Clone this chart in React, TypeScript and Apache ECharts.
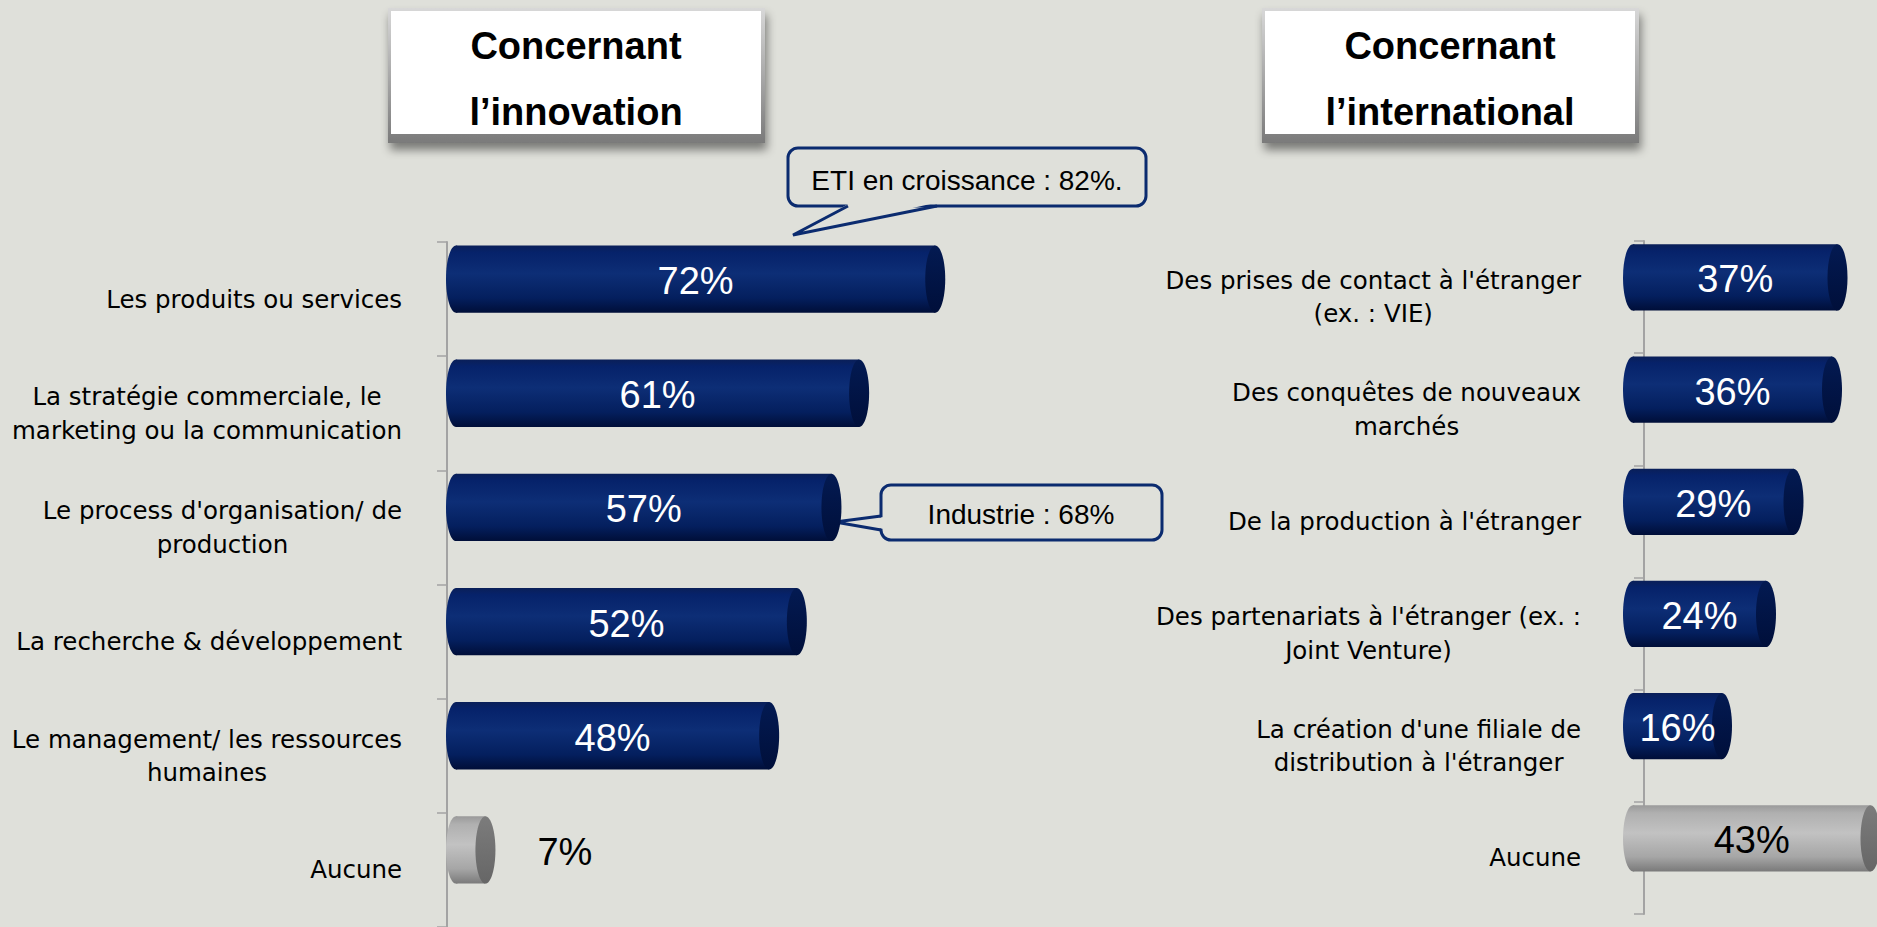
import React, { useEffect, useRef } from 'react';
import * as echarts from 'echarts';

// ---------- data ----------
const innovationCategories = [
  'Les produits ou services',
  'La stratégie commerciale, le\nmarketing ou la communication',
  "Le process d'organisation/ de\nproduction",
  'La recherche & développement',
  'Le management/ les ressources\nhumaines',
  'Aucune',
];
const innovationValues = [72, 61, 57, 52, 48, 7];

const internationalCategories = [
  "Des prises de contact à l'étranger\n(ex. : VIE)",
  'Des conquêtes de nouveaux\nmarchés',
  "De la production à l'étranger",
  "Des partenariats à l'étranger (ex. :\nJoint Venture)",
  "La création d'une filiale de\ndistribution à l'étranger",
  'Aucune',
];
const internationalValues = [37, 36, 29, 24, 16, 43];

const panelTitles = ['Concernant\nl’innovation', 'Concernant\nl’international'];
const calloutTexts = ['ETI en croissance : 82%.', 'Industrie : 68%'];
const noneLabel = 'Aucune';

// ---------- styles ----------
const BG = '#dfe0da';
const NAVY = '#0b2b6f';
const AXIS_GRAY = '#a3a3a3';
const LABEL_FONT = '"DejaVu Sans", Verdana, sans-serif';
const VALUE_FONT = '"Liberation Sans", Arial, sans-serif';

const blueStops = [
  { offset: 0, color: '#0a1f58' },
  { offset: 0.1, color: '#06226a' },
  { offset: 0.42, color: '#0d2e76' },
  { offset: 0.78, color: '#041f5e' },
  { offset: 1, color: '#000e38' },
];
const blueCapStops = [
  { offset: 0, color: '#031a52' },
  { offset: 1, color: '#000f3a' },
];
const grayStops = [
  { offset: 0, color: '#9a9a9a' },
  { offset: 0.12, color: '#b0b0b0' },
  { offset: 0.42, color: '#c2c2c2' },
  { offset: 0.78, color: '#a6a6a6' },
  { offset: 1, color: '#7a7a7a' },
];
const grayCapStops = [
  { offset: 0, color: '#7c7c7c' },
  { offset: 1, color: '#666666' },
];

function cylinderRenderer(categories: string[], startOffset: number) {
  return (_params: any, api: any) => {
    const v = api.value(0) as number;
    const i = api.value(1) as number;
    const end = api.coord([v, i]);
    const zero = api.coord([0, i]);
    const band = api.size([0, 1])[1];
    const h = band * 0.59;
    const top = end[1] - band / 2 + band * 0.03;
    const cy = top + h / 2;
    const rx = 10;
    const start = zero[0] - startOffset;
    const right = Math.max(end[0], start + 2 * rx + 4);
    const none = categories[i] === noneLabel;
    const bodyFill = new echarts.graphic.LinearGradient(0, 0, 0, 1, none ? grayStops : blueStops);
    const capFill = new echarts.graphic.LinearGradient(0, 0, 0, 1, none ? grayCapStops : blueCapStops);
    const barW = right - start;
    const inside = barW > 100;
    return {
      type: 'group',
      children: [
        {
          type: 'ellipse',
          shape: { cx: start + rx, cy, rx, ry: h / 2 },
          style: { fill: bodyFill },
        },
        {
          type: 'rect',
          shape: { x: start + rx, y: top, width: right - rx - (start + rx), height: h },
          style: { fill: bodyFill },
        },
        {
          type: 'ellipse',
          shape: { cx: right - rx, cy, rx, ry: h / 2 },
          style: { fill: capFill },
        },
        {
          type: 'text',
          style: {
            text: v + '%',
            x: inside ? (start + right) / 2 : right + 42,
            y: cy + 2,
            align: inside ? 'center' : 'left',
            verticalAlign: 'middle',
            fontSize: 38,
            fontFamily: VALUE_FONT,
            fill: none || !inside ? '#000000' : '#ffffff',
          },
        },
      ],
    };
  };
}

const centeredLines = (val: string) =>
  val
    .split('\n')
    .map((l) => `{c|${l}}`)
    .join('\n');

function categoryAxis(gridIndex: number, data: string[], offset: number, margin: number) {
  return {
    gridIndex,
    type: 'category',
    data,
    inverse: true,
    offset,
    axisLine: { show: true, lineStyle: { color: AXIS_GRAY, width: 2 } },
    axisTick: { show: true, length: 10, lineStyle: { color: AXIS_GRAY, width: 1.5 } },
    splitLine: { show: false },
    axisLabel: {
      interval: 0,
      margin,
      color: '#000',
      fontFamily: LABEL_FONT,
      fontSize: 24.5,
      lineHeight: 33.5,
      formatter: centeredLines,
      rich: {
        c: {
          color: '#000',
          fontFamily: LABEL_FONT,
          fontSize: 24.5,
          lineHeight: 33.5,
          align: 'center',
        },
      },
    },
  };
}

function titleBox(x: number, title: string) {
  return {
    type: 'group',
    x,
    y: 8,
    children: [
      {
        type: 'rect',
        shape: { x: 0, y: 0, width: 377, height: 135 },
        style: {
          fill: new echarts.graphic.LinearGradient(0, 0, 0, 1, [
            { offset: 0, color: '#d8d8d8' },
            { offset: 1, color: '#7a7a7a' },
          ]),
          shadowBlur: 10,
          shadowOffsetY: 7,
          shadowOffsetX: 2,
          shadowColor: 'rgba(0,0,0,0.45)',
        },
      },
      {
        type: 'rect',
        shape: { x: 3, y: 3, width: 370, height: 123 },
        style: { fill: '#ffffff' },
      },
      {
        type: 'text',
        style: {
          text: title,
          x: 188,
          y: 71,
          align: 'center',
          verticalAlign: 'middle',
          fontSize: 38,
          fontWeight: 'bold',
          fontFamily: VALUE_FONT,
          lineHeight: 66,
          fill: '#000',
        },
      },
    ],
  };
}

export default function App() {
  const ref = useRef<HTMLDivElement>(null);

  useEffect(() => {
    if (!ref.current) return;
    const chart = echarts.init(ref.current, undefined, { renderer: 'svg' });
    chart.setOption({
      animation: false,
      backgroundColor: BG,
      grid: [
        { left: 447, top: 242, width: 692, height: 689 },
        { left: 1644, top: 241, width: 231, height: 673 },
      ],
      xAxis: [
        { gridIndex: 0, type: 'value', min: 0, max: 100, show: false },
        { gridIndex: 1, type: 'value', min: 0, max: 42, show: false },
      ],
      yAxis: [
        categoryAxis(0, innovationCategories, 19, 26),
        categoryAxis(1, internationalCategories, 36, 27),
      ],
      series: [
        {
          type: 'custom',
          xAxisIndex: 0,
          yAxisIndex: 0,
          silent: true,
          clip: false,
          encode: { x: 0, y: 1 },
          data: innovationValues.map((v, i) => [v, i]),
          renderItem: cylinderRenderer(innovationCategories, 1),
        },
        {
          type: 'custom',
          xAxisIndex: 1,
          yAxisIndex: 1,
          silent: true,
          clip: false,
          encode: { x: 0, y: 1 },
          data: internationalValues.map((v, i) => [v, i]),
          renderItem: cylinderRenderer(internationalCategories, 21),
        },
      ],
      graphic: [
        titleBox(388, panelTitles[0]),
        titleBox(1262, panelTitles[1]),
        // callout 1
        {
          type: 'group',
          z: 20,
          children: [
            {
              type: 'rect',
              shape: { x: 788, y: 148, width: 358, height: 58, r: 10 },
              style: { fill: BG, stroke: NAVY, lineWidth: 3 },
            },
            {
              type: 'polygon',
              shape: { points: [[850, 203], [935, 203], [795, 234]] },
              style: { fill: BG },
            },
            {
              type: 'polyline',
              shape: { points: [[848, 206], [793, 235], [937, 206]] },
              style: { stroke: NAVY, lineWidth: 3, fill: null },
            },
            {
              type: 'text',
              style: {
                text: calloutTexts[0],
                x: 967,
                y: 180,
                align: 'center',
                verticalAlign: 'middle',
                fontSize: 28,
                fontFamily: VALUE_FONT,
                fill: '#000',
              },
            },
          ],
        },
        // callout 2
        {
          type: 'group',
          z: 20,
          children: [
            {
              type: 'rect',
              shape: { x: 881, y: 485, width: 281, height: 55, r: 10 },
              style: { fill: BG, stroke: NAVY, lineWidth: 3 },
            },
            {
              type: 'polygon',
              shape: { points: [[884, 517], [884, 529], [837, 522]] },
              style: { fill: BG },
            },
            {
              type: 'polyline',
              shape: { points: [[881, 516], [835, 522], [881, 530]] },
              style: { stroke: NAVY, lineWidth: 3, fill: null },
            },
            {
              type: 'text',
              style: {
                text: calloutTexts[1],
                x: 1021,
                y: 514,
                align: 'center',
                verticalAlign: 'middle',
                fontSize: 28,
                fontFamily: VALUE_FONT,
                fill: '#000',
              },
            },
          ],
        },
      ],
    });
    return () => chart.dispose();
  }, []);

  return (
    <div
      ref={ref}
      style={{ position: 'fixed', left: 0, top: 0, width: 1877, height: 927, background: BG }}
    />
  );
}
